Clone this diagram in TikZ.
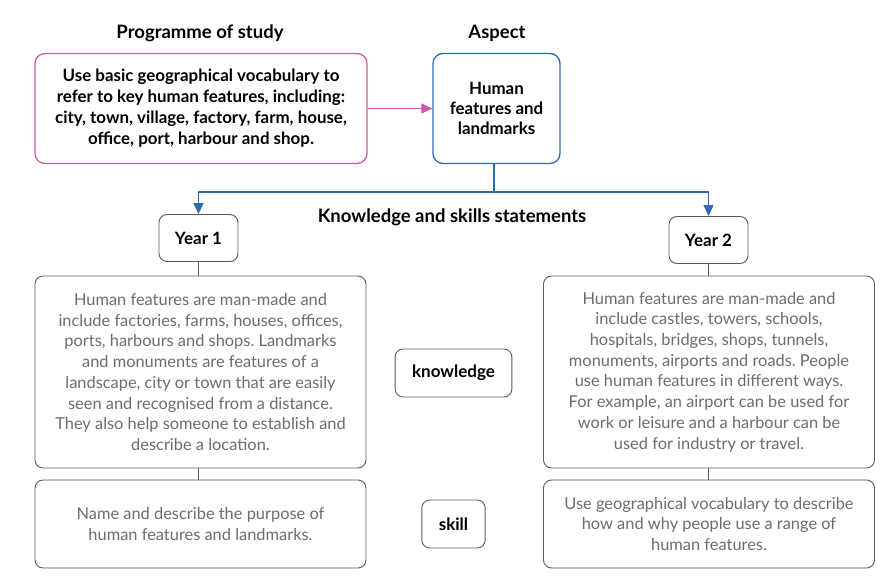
\documentclass[tikz,border=0pt]{standalone}
\usepackage{fontspec}
\setmainfont{Lato}
\usetikzlibrary{arrows.meta}
\definecolor{posline}{RGB}{204,92,160}
\definecolor{aspline}{RGB}{46,108,176}
\definecolor{boxline}{RGB}{90,90,90}
\definecolor{stmtext}{RGB}{108,108,108}
\frenchspacing

\begin{document}
\begin{tikzpicture}[x=1pt, y=-1pt,
    heading/.style={font=\fontsize{18.5}{22}\selectfont\bfseries},
    posbox/.style={draw=posline, line width=1.3pt, rounded corners=10pt, minimum width=332pt,
                   minimum height=110pt, align=center, font=\fontsize{16.9}{21}\selectfont\bfseries},
    aspbox/.style={draw=aspline, line width=1.3pt, rounded corners=10pt, minimum width=127pt,
                   minimum height=110pt, align=center, font=\fontsize{16.9}{20}\selectfont\bfseries},
    yearbox/.style={draw=boxline, line width=0.9pt, rounded corners=8pt, minimum width=79pt,
                    minimum height=47pt, font=\fontsize{17}{20}\selectfont\bfseries},
    tagbox/.style={draw=boxline, line width=0.9pt, rounded corners=8pt, minimum height=48pt,
                   inner xsep=17pt, font=\fontsize{17}{20}\selectfont\bfseries},
    stmbox/.style={draw=boxline, line width=0.9pt, rounded corners=8pt, minimum width=331pt,
                   align=center, text=stmtext, font=\fontsize{16.4}{20.7}\selectfont},
    posarrow/.style={posline, line width=1.3pt, -{Triangle[length=11pt,width=10pt]}},
    asparrow/.style={aspline, line width=1.3pt, -{Triangle[length=11pt,width=10pt]}},
    link/.style={boxline, line width=0.9pt}]
  \useasboundingbox (0,0) rectangle (895,580);
  \node[heading] (hpos) at (200,33) {Programme of study};
  \node[heading] (hasp) at (497,33) {Aspect};
  \node[posbox] (pos) at (201,108.5) {Use basic geographical vocabulary to\\
    refer to key human features, including:\\ city, town, village, factory, farm, house,\\
    office, port, harbour and shop.};
  \node[aspbox] (asp) at (496.5,108.5) {Human\\ features and\\ landmarks};
  \draw[posarrow] (pos) -- (asp);
  \coordinate (fork) at (494,192);
  \node[yearbox] (y1) at (198.5,238) {Year 1};
  \node[yearbox] (y2) at (708.5,240) {Year 2};
  \draw[asparrow] (asp.south -| fork) -- (fork) -| (y1.north);
  \draw[asparrow] (fork) -| (y2.north);
  \node[heading] (hks) at (452,217) {Knowledge and skills statements};
  \node[stmbox, minimum height=192pt] (k1) at (200.5,372) {Human features are man-made and\\
    include factories, farms, houses, offices,\\ ports, harbours and shops. Landmarks\\
    and monuments are features of a\\ landscape, city or town that are easily\\
    seen and recognised from a distance.\\ They also help someone to establish and\\
    describe a location.};
  \node[stmbox, minimum height=88pt] (s1) at (200.5,524) {Name and describe the purpose of\\
    human features and landmarks.};
  \node[stmbox, minimum height=192pt] (k2) at (709,372) {Human features are man-made and\\
    include castles, towers, schools,\\ hospitals, bridges, shops, tunnels,\\
    monuments, airports and roads. People\\ use human features in different ways.\\
    For example, an airport can be used for\\ work or leisure and a harbour can be\\
    used for industry or travel.};
  \node[stmbox, minimum height=88pt] (s2) at (709,524) {Use geographical vocabulary to describe\\
    how and why people use a range of\\ human features.};
  \node[tagbox] (kn) at (453.5,373) {knowledge};
  \node[tagbox] (sk) at (453.5,524) {skill};
  \draw[link] (y1.south) -- (y1.south |- k1.north);
  \draw[link] (y1.south |- k1.south) -- (y1.south |- s1.north);
  \draw[link] (y2.south) -- (y2.south |- k2.north);
  \draw[link] (y2.south |- k2.south) -- (y2.south |- s2.north);
\end{tikzpicture}
\end{document}
